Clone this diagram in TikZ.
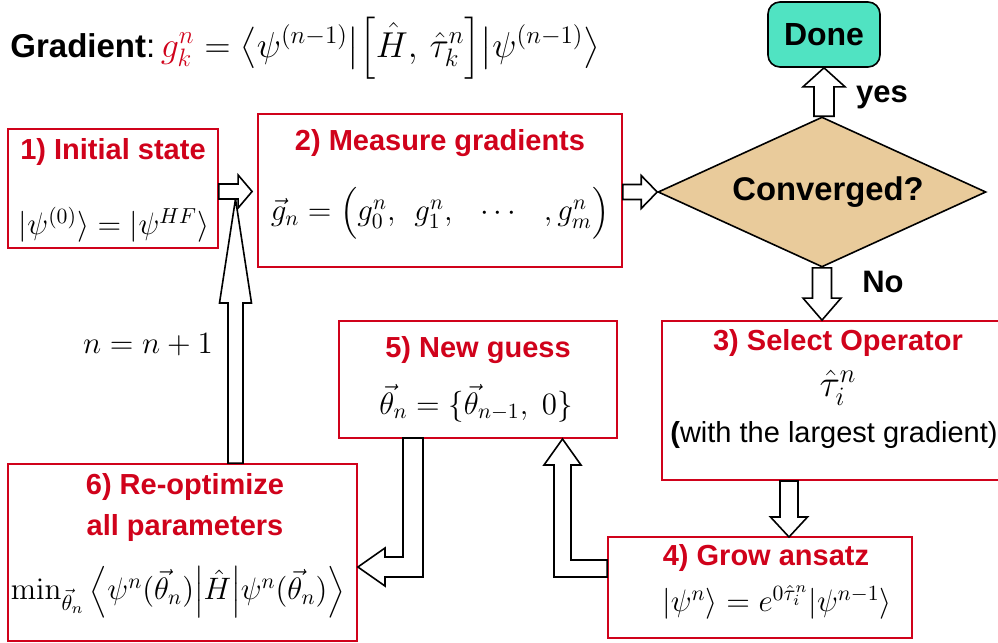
\RequirePackage{fix-cm}
\documentclass[tikz,border=0pt]{standalone}
\usepackage{amsmath}
\usepackage[no-math]{fontspec}
\setmainfont{Liberation Sans}
\usetikzlibrary{calc,fit,shapes.geometric}
\definecolor{boxred}{RGB}{208,2,27}
\definecolor{doneteal}{RGB}{80,227,194}
\definecolor{diatan}{RGB}{233,203,155}
% horizontal block arrow: #1 start, #2 tip, #3 shaft half-width, #4 head half-width, #5 head length (px)
\newcommand\barrH[5]{%
\draw[blockarrow] let \p1=(#1), \p2=(#2), \n1={sign(\x2-\x1)} in
 (\x1,\y2+#3*0.5pt) -- (\x2-\n1*#5*0.5pt,\y2+#3*0.5pt) -- (\x2-\n1*#5*0.5pt,\y2+#4*0.5pt) -- (\p2)
 -- (\x2-\n1*#5*0.5pt,\y2-#4*0.5pt) -- (\x2-\n1*#5*0.5pt,\y2-#3*0.5pt) -- (\x1,\y2-#3*0.5pt) -- cycle;}
% vertical block arrow
\newcommand\barrV[5]{%
\draw[blockarrow] let \p1=(#1), \p2=(#2), \n1={sign(\y2-\y1)} in
 (\x2+#3*0.5pt,\y1) -- (\x2+#3*0.5pt,\y2-\n1*#5*0.5pt) -- (\x2+#4*0.5pt,\y2-\n1*#5*0.5pt) -- (\p2)
 -- (\x2-#4*0.5pt,\y2-\n1*#5*0.5pt) -- (\x2-#3*0.5pt,\y2-\n1*#5*0.5pt) -- (\x2-#3*0.5pt,\y1) -- cycle;}
\begin{document}
\begin{tikzpicture}[x=0.5pt,y=-0.5pt,
  redbox/.style={draw=boxred, line width=0.9pt, inner sep=0pt},
  ttl/.style={text=boxred, font=\fontsize{14.5}{17}\selectfont\bfseries, inner sep=0pt},
  mth/.style={font=\fontsize{15.5}{18}\selectfont, inner sep=0pt},
  blk/.style={font=\fontsize{15.5}{18}\selectfont\bfseries, inner sep=0pt},
  blockarrow/.style={draw=black, fill=white, line width=0.8pt, line join=miter}]
\useasboundingbox (0,0) rectangle (998,643);

% header
\node[anchor=base west, inner sep=0pt] (grad) at (10,57)
 {{\fontsize{16.5}{20}\selectfont\textbf{Gradient}:\,}{\fontsize{18}{21}\selectfont$\color{boxred}g_k^n\color{black} = \big\langle\psi^{(n-1)}\big|\Big[\hat H,\,\hat\tau_k^n\Big]\big|\psi^{(n-1)}\big\rangle$}};

% boxes
\node[redbox, fit={(8,129) (218,248)}] (b1) {};
\node[redbox, fit={(258,114) (622,267)}] (b2) {};
\node[redbox, fit={(662,321) (1006,480)}] (b3) {};
\node[redbox, fit={(608,537) (912,638)}] (b4) {};
\node[redbox, fit={(339,321) (617,438)}] (b5) {};
\node[redbox, fit={(8,464) (357,641)}] (b6) {};
\node[draw=black, line width=0.8pt, fill=doneteal, rounded corners=6pt,
      minimum width=56pt, minimum height=32.5pt, inner sep=0pt,
      font=\fontsize{16}{19}\selectfont\bfseries] (done) at (824,34.5) {Done};
\node[diamond, draw=black, line width=0.8pt, fill=diatan, inner sep=0pt, aspect=2.19,
      minimum width=164pt, minimum height=75pt,
      font=\fontsize{16.4}{19}\selectfont\bfseries] (dia) at (822,192) {\hspace{6pt}Converged?};

% texts
\node[ttl] (t1) at (113,152) {1) Initial state};
\node[mth] (f1) at (114,225) {$\lvert\psi^{(0)}\rangle = \lvert\psi^{HF}\rangle$};
\node[ttl] (t2) at (440,143) {2) Measure gradients};
\node[mth] (f2) at (440,213) {$\vec g_n = \Big(g_0^n,\;\, g_1^n,\;\;\, \cdots\;\;\, ,g_m^n\Big)$};
\node[ttl] (t3) at (838,343) {3) Select Operator};
\node[font=\fontsize{19}{22}\selectfont, inner sep=0pt] (f3) at (838,388) {$\hat\tau_i^n$};
\node[font=\fontsize{14.5}{17}\selectfont, inner sep=0pt] (w3) at (834,435) {\textbf{(}with the largest gradient)};
\node[ttl] (t4) at (766,558) {4) Grow ansatz};
\node[mth] (f4) at (777,602) {$\lvert\psi^n\rangle = e^{0\hat\tau_i^n}\lvert\psi^{n-1}\rangle$};
\node[ttl] (t5) at (478,350) {5) New guess};
\node[mth] (f5) at (476,403) {$\vec\theta_n = \{\vec\theta_{n-1},\; 0\}$};
\node[ttl] (t6a) at (185,487) {6) Re-optimize};
\node[ttl] (t6b) at (185,528) {all parameters};
\node[mth] (f6) at (178,592) {$\min_{\vec\theta_n}\Big\langle\psi^n(\vec\theta_n)\Big|\hat H\Big|\psi^n(\vec\theta_n)\Big\rangle$};
\node[mth] (inc) at (148,345) {$n = n + 1$};
\node[blk] (yes) at (882,97) {yes};
\node[blk] (no) at (883,282) {No};

% connectors (block arrows)
\barrV{b6.north -| 235.5,0}{235.5,199}{7.5}{16}{104}
\barrH{b1.east}{$(b2.west)+(-5,1)$}{7.5}{16.5}{14}
\barrH{b2.east}{dia.west}{7.5}{16.5}{16}
\barrV{dia.north}{done.south}{10}{21}{19}
\barrV{dia.south}{dia.south |- b3.north}{9.5}{19}{22}
\barrV{789,481}{789,537}{9}{18.5}{20}
% elbow: 5 -> 6
\draw[blockarrow] (403,438) -- (423,438) -- (423,577) -- (385,577) -- (385,586) -- (b6.east |- 0,567)
  -- (385,548) -- (385,557) -- (403,557) -- cycle;
% elbow: 4 -> 5
\draw[blockarrow] (b4.west |- 0,560) -- (b4.west |- 0,577) -- (554,577) -- (554,465) -- (544,465)
  -- (562.5,439) -- (581,465) -- (571,465) -- (571,560) -- cycle;
\end{tikzpicture}
\end{document}
